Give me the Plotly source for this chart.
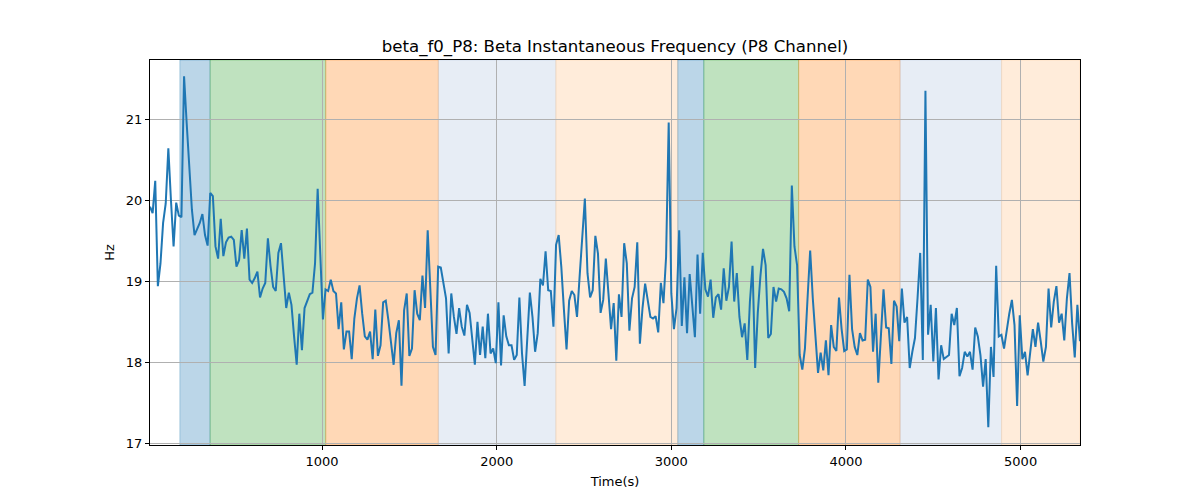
import numpy as np
import plotly.graph_objects as go

title = "beta_f0_P8: Beta Instantaneous Frequency (P8 Channel)"

t_start = 15
t_step = 15

freq_hz = [
    # segment 1
    19.92, 19.84, 20.24, 18.94, 19.22, 19.72, 19.96, 20.64, 20.00, 19.43,
    19.97, 19.81, 19.79, 21.53, 20.95, 20.42, 19.88, 19.57, 19.65, 19.72,
    19.83, 19.57, 19.44, 20.09, 20.05, 19.43, 19.28, 19.77, 19.31, 19.48,
    19.54, 19.55, 19.51, 19.18, 19.26, 19.63, 19.28, 19.65, 19.02, 18.98,
    19.04, 19.12, 18.80, 18.91, 18.98, 19.53, 19.19, 18.93, 18.88, 19.35,
    19.47, 19.10, 18.67, 18.86, 18.71, 18.32, 17.97, 18.60, 18.15, 18.67,
    18.75, 18.84,
    # segment 2
    18.86, 19.22, 20.14, 19.30, 18.53, 18.90, 18.88, 19.02, 18.88, 18.85,
    18.41, 18.74, 18.16, 18.38, 18.38, 18.04, 18.54, 18.79, 18.95, 18.60,
    18.32, 18.28, 18.38, 18.04, 18.65, 18.08, 18.21, 18.74, 18.76, 18.52,
    18.26, 17.97, 18.36, 18.52, 17.71, 18.64, 18.85, 18.08, 18.17, 18.89,
    18.60, 18.52, 19.07, 18.67, 19.63, 18.85, 18.19, 18.09, 19.18, 19.17,
    18.97, 18.79, 18.11, 18.85, 18.56, 18.35, 18.67, 18.44, 18.33,
    # segment 3
    18.71, 18.61, 18.32, 17.97, 18.50, 18.09, 18.44, 18.05, 18.60, 18.11,
    18.17, 17.99, 18.74, 17.96, 18.58, 18.32, 18.21, 18.21, 18.03, 18.09,
    18.80, 18.11, 17.71, 18.32, 18.86, 18.56, 18.13, 18.36, 19.03, 18.95,
    19.37, 18.89, 18.88, 18.44, 19.45, 19.57, 19.18, 18.65, 18.16, 18.76,
    18.88, 18.83, 18.56, 19.06, 19.58, 20.02, 19.10, 18.80, 18.89, 19.56,
    19.34, 18.61, 18.77, 19.28, 18.85, 18.41, 18.73, 18.02, 18.84,
    # segment 4
    18.56, 19.47, 19.22, 18.39, 18.79, 18.93, 19.48, 18.23, 18.67, 18.97,
    18.77, 18.56, 18.54, 18.57, 18.37, 18.98, 18.73, 19.30, 20.96, 18.85,
    18.41, 18.67, 19.63, 18.45, 19.05, 18.36, 19.09, 18.71, 18.31, 19.33,
    18.60, 19.35, 18.90, 18.81, 19.02, 18.55, 18.80, 18.84, 18.65, 19.16,
    18.76, 18.93, 19.49, 18.75, 19.10, 18.56, 18.31, 18.48, 18.03, 18.75,
    19.19, 17.93, 18.61, 19.06, 19.40, 19.20, 18.30, 18.35, 18.93,
    # segment 5
    18.75, 18.91, 18.90, 18.87, 18.79, 18.63, 20.18, 19.43, 19.20, 18.09,
    17.91, 18.17, 18.79, 19.38, 18.79, 18.36, 17.87, 18.12, 17.90, 18.27,
    17.84, 18.46, 18.19, 18.14, 18.80, 18.41, 18.14, 18.16, 19.08, 18.41,
    18.19, 18.09, 18.36, 18.27, 18.28, 19.02, 18.93, 18.13, 18.60, 17.75,
    18.40, 18.90, 18.43, 18.42, 17.98, 18.76, 18.69, 18.26, 18.91, 18.49,
    18.56, 17.93, 18.13, 18.30, 18.80, 19.35, 18.03, 21.35, 18.34,
    # segment 6
    18.71, 18.01, 18.67, 17.79, 18.21, 18.04, 18.07, 18.09, 18.60, 18.46,
    18.67, 17.83, 17.93, 18.13, 18.07, 18.13, 17.91, 18.43, 18.32, 18.09,
    17.70, 18.04, 17.20, 18.19, 17.82, 19.19, 18.32, 18.34, 18.17, 18.40,
    18.60, 18.77, 18.46, 17.46, 18.58, 18.04, 18.13, 17.84, 18.15, 18.41,
    18.19, 18.49, 18.26, 18.01, 18.19, 18.91, 18.43, 18.75, 18.94, 18.49,
    18.60, 18.27, 18.79, 19.10, 18.48, 18.06, 18.71, 18.26,
]

time_s = t_start + t_step * np.arange(len(freq_hz))

span_starts = [186, 359, 1021, 1666, 2339, 3037, 3186, 3729, 4310, 4891]
span_ends = [359, 1021, 1666, 2339, 3037, 3186, 3729, 4310, 4891, 5340]
span_colors = [
    "rgba(31,119,180,0.3)", "rgba(44,160,44,0.3)", "rgba(255,127,14,0.3)",
    "rgba(176,196,222,0.3)", "rgba(255,200,150,0.35)",
    "rgba(31,119,180,0.3)", "rgba(44,160,44,0.3)", "rgba(255,127,14,0.3)",
    "rgba(176,196,222,0.3)", "rgba(255,200,150,0.35)",
]

x_tick_vals = [1000, 2000, 3000, 4000, 5000]
y_tick_vals = [17, 18, 19, 20, 21]

fig = go.Figure()
fig.add_trace(go.Scatter(x=time_s, y=freq_hz, mode="lines",
                         line=dict(color="#1f77b4", width=2), showlegend=False))

for s, e, c in zip(span_starts, span_ends, span_colors):
    fig.add_shape(type="rect", xref="x", yref="paper", x0=s, x1=e, y0=0, y1=1,
                  fillcolor=c, line=dict(color=c, width=1), layer="between")

fig.update_layout(
    width=1200, height=500,
    margin=dict(l=142, r=128, t=52, b=63),
    paper_bgcolor="white", plot_bgcolor="white",
    font=dict(family="DejaVu Sans", size=13, color="black"),
    title=dict(text=title, x=(142 + (1200 - 128)) / 2 / 1200, xanchor="center",
               y=1 - 38 / 500, yanchor="middle",
               font=dict(size=16.6, color="black")),
    xaxis=dict(range=[time_s[0], time_s[-1]], tickvals=x_tick_vals,
               showgrid=True, gridcolor="#b0b0b0", gridwidth=1,
               showline=True, linecolor="black", linewidth=1, mirror=True,
               ticks="outside", ticklen=4, tickcolor="black", zeroline=False,
               title=dict(text="Time(s)", standoff=9, font=dict(size=13))),
    yaxis=dict(range=[16.98, 21.73], tickvals=y_tick_vals,
               showgrid=True, gridcolor="#b0b0b0", gridwidth=1,
               showline=True, linecolor="black", linewidth=1, mirror=True,
               ticks="outside", ticklen=4, tickcolor="black", zeroline=False,
               title=dict(text="Hz", standoff=8, font=dict(size=13))),
)

fig.write_html("out.html")
